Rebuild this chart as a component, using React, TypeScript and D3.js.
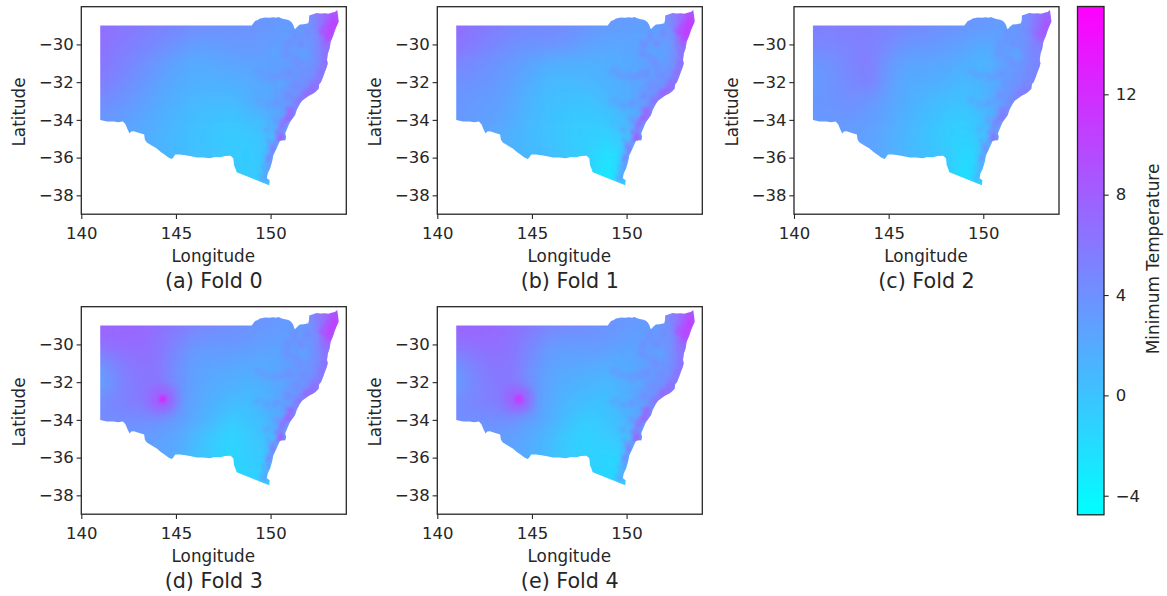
// App.tsx - minimum temperature maps of NSW for five folds
import React, { useEffect, useRef } from 'react';
import * as d3 from 'd3';

const WIDTH = 1167;
const HEIGHT = 596;

// NSW outline, [lon, lat]
const OUTLINE: [number, number][] = [
  [141, -29], [149, -28.99], [149.1, -28.86], [149.18, -28.76], [149.32, -28.7], [149.44, -28.63], [149.58, -28.6],
  [149.7, -28.57], [149.92, -28.59], [150.14, -28.56], [150.28, -28.58], [150.41, -28.54], [150.6, -28.62], [150.76, -28.67],
  [150.9, -28.69], [151.02, -28.75], [151.12, -28.84], [151.2, -28.97], [151.24, -29.1], [151.29, -29.2], [151.42, -29.05],
  [151.55, -28.94], [151.75, -28.93], [151.99, -28.88], [152.03, -28.7], [152.04, -28.46], [152.2, -28.41], [152.43, -28.33],
  [152.65, -28.36], [152.87, -28.35], [153.05, -28.37], [153.23, -28.32], [153.4, -28.28], [153.52, -28.18], [153.56, -28.45],
  [153.6, -28.8], [153.48, -29.05], [153.4, -29.26], [153.3, -29.55], [153.17, -29.87], [153.12, -30.2], [153.02, -30.5],
  [152.98, -30.83], [153.02, -31], [152.97, -31.2], [152.86, -31.48], [152.78, -31.72], [152.66, -32], [152.57, -32.1],
  [152.54, -32.35], [152.4, -32.5], [152.26, -32.6], [152.02, -32.72], [151.82, -32.86], [151.66, -32.98], [151.55, -33.14],
  [151.38, -33.48], [151.29, -33.75], [151.14, -33.95], [151.02, -34.12], [150.9, -34.4], [150.77, -34.72], [150.82, -34.9],
  [150.78, -35.08], [150.62, -35.08], [150.49, -35.12], [150.32, -35.5], [150.14, -35.87], [150.08, -36.2], [149.97, -36.58],
  [149.84, -36.85], [149.8, -37.1], [149.95, -37.2], [149.93, -37.46], [148.21, -36.78], [148.14, -36.58], [148.07, -36.4],
  [148.03, -36.04], [147.88, -35.9], [147.59, -35.92], [147.35, -35.98], [147.05, -35.97], [146.8, -36.04], [146.45, -35.99],
  [146.11, -36], [145.8, -35.93], [145.5, -35.87], [145.22, -35.83], [144.96, -35.84], [144.86, -36], [144.78, -36.08],
  [144.6, -36], [144.43, -35.86], [144.2, -35.7], [143.99, -35.52], [143.72, -35.36], [143.46, -35.2], [143.36, -35.05],
  [143.32, -34.78], [143.02, -34.68], [142.78, -34.6], [142.64, -34.62], [142.55, -34.72], [142.44, -34.5], [142.34, -34.25],
  [142.2, -34.08], [141.95, -34.12], [141.7, -34.09], [141.35, -34.08], [141, -34]
];

const GRID_LONS = [141, 142, 143, 144, 145, 146, 147, 148, 149, 150, 151, 152, 153, 154];
const GRID_LATS = [-28, -29, -30, -31, -32, -33, -34, -35, -36, -37, -38];

// temperature on a one degree grid
const FOLD_0 = [
  [6.5, 6, 6, 5.5, 5, 5, 4.5, 4.5, 4, 3.5, 3.5, 4.5, 9, 10],
  [6.8, 6.3, 5.8, 5.3, 4.8, 4.4, 4.2, 4, 3.8, 3.5, 3, 3.5, 7, 9],
  [6.6, 5.8, 5.2, 4.6, 3.8, 3, 3, 3.4, 3.4, 3, 2.8, 3.2, 6.5, 8],
  [6.2, 5.3, 4.4, 3.4, 2.5, 2, 2.2, 2.5, 2.6, 2.6, 3, 3.5, 5.5, 7],
  [5.6, 4.7, 3.8, 2.8, 2, 1.5, 1.5, 1.6, 2, 2.6, 3.5, 4.2, 6, 7],
  [4.4, 3.8, 3, 2.2, 1.5, 1, 0.8, 0.8, 1.6, 2.2, 3.5, 5, 6.5, 7],
  [3.6, 3, 2.4, 1.7, 1, 0.4, 0, -0.2, 0.5, 1.5, 3, 5.5, 7, 7],
  [3, 2.6, 2, 1.4, 0.7, 0.2, -0.2, -0.6, -0.5, 0.5, 3, 6, 7, 7],
  [3, 2.6, 2, 1.4, 0.9, 0.4, 0, -0.5, -0.7, 0.4, 4, 6, 7, 7],
  [3, 2.6, 2, 1.4, 0.9, 0.4, 0, -0.4, -0.8, 0, 4, 6, 7, 7],
  [3, 2.6, 2, 1.4, 0.9, 0.4, 0, -0.4, -0.8, 0, 4, 6, 7, 7]
];
const FOLD_1 = [
  [6.5, 6, 6, 5.5, 5, 5, 4.5, 4.5, 4, 3.5, 3.5, 4.5, 9, 10],
  [6.8, 6.2, 5.6, 4.9, 4.6, 4.6, 4.4, 3.6, 3.2, 3, 2.6, 3, 7, 9],
  [6.4, 5.6, 4.8, 4.2, 3.8, 4, 3.5, 2.6, 2.4, 2.4, 2.4, 2.4, 6, 8],
  [5, 4.4, 3.8, 3.2, 2.4, 1.6, 1.6, 1.6, 1.7, 2, 2.5, 3, 5, 7],
  [4, 3.8, 3.4, 2.6, 1.6, 0.8, 0.8, 1, 1.4, 2, 3, 3.8, 5.5, 6.5],
  [3.6, 3.3, 3, 2.2, 1, 0.4, 0.2, 0, 0.8, 1.6, 3, 5, 6, 6.5],
  [3.4, 3, 2.6, 1.8, 0.8, 0.2, -0.4, -0.6, -0.2, 1, 3, 6, 7, 7],
  [3, 2.6, 2, 1.3, 0.6, 0.1, -0.6, -0.8, -1.2, 0, 3, 6, 7, 7],
  [3, 2.6, 2, 1.4, 0.9, 0.6, -0.2, -1, -2.6, -1, 3.5, 6, 7, 7],
  [3, 2.6, 2, 1.4, 0.9, 0.6, -0.2, -1, -3.2, -1, 3, 6, 7, 7],
  [3, 2.6, 2, 1.4, 0.9, 0.6, -0.2, -1, -3.2, -1, 3, 6, 7, 7]
];
const FOLD_2 = [
  [5.5, 5.5, 5.5, 5, 5, 5, 4.5, 4.5, 4, 3.5, 3.5, 4, 7, 8],
  [5.5, 5.5, 5.6, 5.6, 5.2, 4.8, 4.4, 4, 3.6, 3.4, 3, 3.5, 6.5, 7.5],
  [4.8, 5, 5.2, 5.4, 4.6, 3.6, 3.6, 3.2, 2.8, 2, 2.6, 3.5, 6, 7.5],
  [3.6, 4, 5, 5.6, 3.4, 2.4, 2.4, 2.2, 1.6, 1, 2.5, 3.6, 5.5, 6.5],
  [3, 3.8, 4.6, 5.4, 3, 2, 1.8, 1.4, 0.8, 1.2, 3, 4, 5.5, 6.5],
  [3.6, 3.8, 4.2, 3.6, 2.6, 1.6, 1, 0.4, 0, 1, 3, 5, 6, 6.5],
  [3.4, 3.4, 3.4, 3, 2.2, 1.2, 0.4, -0.4, -0.8, 0.4, 3, 5.6, 7, 7],
  [3, 3, 3, 2.6, 1.8, 0.9, 0.1, -0.8, -1.2, -0.2, 3, 6, 7, 7],
  [3, 3, 3, 2.6, 1.8, 1, 0.4, -0.2, -2, -0.8, 3.5, 6, 7, 7],
  [3, 3, 3, 2.6, 1.8, 1, 0.4, -0.4, -2.4, -1, 3, 6, 7, 7],
  [3, 3, 3, 2.6, 1.8, 1, 0.4, -0.4, -2.4, -1, 3, 6, 7, 7]
];
const FOLD_3 = [
  [7.5, 7.5, 7, 7, 6, 5, 5, 4.5, 4, 3.5, 3.5, 4.5, 9, 10],
  [7.6, 7.4, 7.4, 6.6, 6, 5.2, 4.6, 4.2, 3.8, 3.4, 3, 3.5, 7, 9],
  [6.6, 7, 7, 6.4, 5, 3.6, 3.4, 3.6, 3.2, 2.8, 2.8, 3.2, 6.5, 8.5],
  [4, 5.4, 6.4, 6.2, 4.2, 2.8, 2.6, 2.4, 2.2, 2, 2.8, 3.6, 5.5, 7],
  [2.6, 4.8, 6, 6.2, 4, 2.6, 2, 1.6, 1.4, 2, 3, 4, 5.5, 7],
  [4.4, 5.2, 5.8, 6.4, 4, 2.4, 1.4, 0.8, 0.4, 1.6, 3, 5, 6, 7],
  [4.4, 4.4, 4.4, 4.2, 3.2, 2, 0.8, -0.6, 0.2, 1.4, 3, 5.5, 7, 7],
  [3.4, 3.2, 3, 2.8, 2.2, 0.9, -0.6, -1.4, -0.4, 0.4, 3, 6, 7, 7],
  [3.4, 3.2, 3, 2.6, 1.8, 0.4, -0.8, -1.6, -0.4, -0.8, 3.5, 6, 7, 7],
  [3.4, 3.2, 3, 2.6, 1.8, 0.4, -0.8, -1.4, -1.2, -1.2, 3, 6, 7, 7],
  [3.4, 3.2, 3, 2.6, 1.8, 0.4, -0.8, -1.4, -1.2, -1.2, 3, 6, 7, 7]
];
const FOLD_4 = [
  [7.5, 7.5, 7, 7, 6, 5, 5, 4.5, 4, 3.5, 3.5, 4.5, 9, 10],
  [7.6, 7.4, 7.2, 6.6, 5.8, 5, 4.6, 4.2, 3.8, 3.4, 3, 3.5, 7, 9],
  [6.4, 6.8, 6.8, 6.2, 4.8, 3.4, 3.2, 3.4, 3.2, 2.6, 2.6, 3.2, 6.5, 8.5],
  [4.2, 5.4, 6.2, 6, 4, 2.6, 2.4, 2.2, 2, 1.8, 2.6, 3.6, 5.5, 7],
  [3, 4.8, 5.8, 6, 3.6, 2.2, 1.6, 1.2, 1, 1.8, 3, 4, 5.5, 7],
  [4.4, 5, 5.6, 6.2, 3.6, 2, 1, 0.4, 0.2, 1.4, 3, 5, 6, 7],
  [4.2, 4.2, 4.2, 4, 2.8, 1.6, 0.2, -0.8, 0, 1.2, 3, 5.5, 7, 7],
  [3.4, 3.2, 3, 2.6, 1.8, 0.6, -0.8, -1.2, -0.6, 0.2, 3, 6, 7, 7],
  [3.4, 3.2, 3, 2.4, 1.6, 0.4, -0.6, -1, -1.4, -1.2, 3.5, 6, 7, 7],
  [3.4, 3.2, 3, 2.4, 1.6, 0.4, -0.6, -1, -1.6, -1.6, 3, 6, 7, 7],
  [3.4, 3.2, 3, 2.4, 1.6, 0.4, -0.6, -1, -1.6, -1.6, 3, 6, 7, 7]
];
const FOLD_GRIDS = [FOLD_0, FOLD_1, FOLD_2, FOLD_3, FOLD_4];
const FOLD_LABELS = ['(a) Fold 0', '(b) Fold 1', '(c) Fold 2', '(d) Fold 3', '(e) Fold 4'];

// warm strip along the coast, [lon, lat, temp]
const COAST_CELLS: [number, number, number][] = [
  [153.3, -28.5, 9.5], [153.4, -28.9, 10.5], [153, -29, 9.5], [153.2, -29.3, 10.5], [152.9, -29.5, 9.5], [153.1, -29.7, 9.5],
  [152.8, -29.2, 8], [152.9, -30, 7], [153, -30.5, 6.5], [152.85, -31, 6.5], [152.7, -31.5, 6.5], [152.45, -32, 6.5], [152.2, -32.4, 7.5],
  [151.9, -32.6, 7.5], [151.5, -33, 6.5], [151.1, -33.5, 7.5], [150.9, -33.9, 8.5], [150.6, -34.3, 7], [150.5, -34.8, 7], [150.5, -35, 8.5],
  [150.15, -35.5, 6.5], [149.95, -36, 5.5], [149.85, -36.5, 4], [149.7, -37, 3]
];
// the ranges and valleys behind the coast, same in every fold
const RANGE_CELLS: [number, number, number][] = [
  [151.9, -29.5, 4.6], [151.6, -30, 4.8], [151.2, -29.6, 4.8], [150.9, -30, 4.6], [150.8, -30.5, 4.4], [151.2, -30.7, 4], [151.5, -31, 4.4],
  [151, -31.5, 4.4], [150.6, -31.7, 3.8], [150.2, -31.7, 3.6], [149.7, -31.6, 3.4], [149.3, -31.4, 3.2], [151.8, -31.6, 4.4], [151.3, -32.2, 4.4],
  [150.9, -32.7, 4.8], [150.3, -33.1, 3.8], [149.8, -33.2, 3.2], [149.3, -33, 2.8], [150.3, -34, 3.2], [149.8, -34.5, 2.4], [150, -35.2, 2.8],
  [150.2, -30.4, 2.2], [150.6, -32.1, 2], [149.9, -32.4, 1.6], [151.8, -30.5, 2.4], [149.4, -34.1, 0.2]
];
const COAST_OFFSET = [0, 0.5, -1.8, 0, 0];

// warm spot on the western plain in folds 3 and 4, [lon, lat, temp]
const SPOT_CORE: [number, number, number][][] = [[], [], [], [[144.3, -32.9, 15]], [[144.3, -32.9, 14.5]]];
const SPOT_HALO: [number, number, number][][] = [[], [], [], [[144.3, -32.9, 8.2]], [[144.3, -32.9, 8.2]]];

const X_TICKS = [140, 145, 150];
const Y_TICKS = [-30, -32, -34, -36, -38];
const COLORBAR_TICKS = [-4, 0, 4, 8, 12];
const TEMP_MIN = -4.76;
const TEMP_MAX = 15.5;

const COLS = [81.3, 437.3, 794];
const ROWS = [6.7, 306.7];
const PANEL_W = 265;
const PANEL_H = 207.5;
const INK = '#262626';

const App = () => {
  const svgRef = useRef<SVGSVGElement>(null);

  useEffect(() => {
    const svg = d3.select(svgRef.current);
    svg.selectAll('*').remove();

    const color = d3.scaleLinear<string>().domain([TEMP_MIN, TEMP_MAX]).range(['#00ffff', '#ff00ff']);
    const defs = svg.append('defs');

    const blurFilter = (id: string, dev: number) => {
      defs.append('filter').attr('id', id)
        .attr('x', '-50%').attr('y', '-50%').attr('width', '200%').attr('height', '200%')
        .append('feGaussianBlur').attr('stdDeviation', dev);
    };
    blurFilter('coarseBlur', 8);
    blurFilter('haloBlur', 6);
    blurFilter('coreBlur', 2);

    // rough edges on the ranges
    const rough = defs.append('filter').attr('id', 'roughBlur')
      .attr('x', '-20%').attr('y', '-20%').attr('width', '140%').attr('height', '140%');
    rough.append('feGaussianBlur').attr('stdDeviation', 2.2).attr('result', 'soft');
    rough.append('feTurbulence').attr('type', 'fractalNoise').attr('baseFrequency', 0.18)
      .attr('numOctaves', 2).attr('seed', 4).attr('result', 'noise');
    rough.append('feDisplacementMap').attr('in', 'soft').attr('in2', 'noise').attr('scale', 8)
      .attr('xChannelSelector', 'R').attr('yChannelSelector', 'G').attr('result', 'shifted');
    rough.append('feGaussianBlur').attr('in', 'shifted').attr('stdDeviation', 0.8);

    FOLD_GRIDS.forEach((grid, i) => {
      const left = COLS[i % 3];
      const top = ROWS[Math.floor(i / 3)];
      const x = d3.scaleLinear().domain([140, 154]).range([0, PANEL_W]);
      const y = d3.scaleLinear().domain([-28, -39]).range([0, PANEL_H]);
      const g = svg.append('g').attr('transform', `translate(${left}, ${top})`);

      const outline = d3.line<[number, number]>().x(d => x(d[0])).y(d => y(d[1]));
      defs.append('clipPath').attr('id', `nsw${i}`)
        .append('path').attr('d', outline(OUTLINE) + 'Z');

      const map = g.append('g').attr('clip-path', `url(#nsw${i})`);
      const base = map.append('g').attr('filter', 'url(#coarseBlur)');
      grid.forEach((row, r) => {
        row.forEach((temp, c) => {
          // outer cells run on past the outline so the blur keeps full colour at the border
          const x0 = x(GRID_LONS[c] - (c === 0 ? 3 : 0.5));
          const x1 = x(GRID_LONS[c] + (c === row.length - 1 ? 3 : 0.5));
          const y0 = y(GRID_LATS[r] + (r === 0 ? 3 : 0.5));
          const y1 = y(GRID_LATS[r] - (r === grid.length - 1 ? 3 : 0.5));
          base.append('rect')
            .attr('x', x0).attr('y', y0)
            .attr('width', x1 - x0 + 0.5).attr('height', y1 - y0 + 0.5)
            .attr('fill', color(temp));
        });
      });

      const cell = (parent: any, d: [number, number, number], half: number, temp: number) => {
        parent.append('rect')
          .attr('x', x(d[0] - half)).attr('y', y(d[1] + half))
          .attr('width', x(half * 2) - x(0)).attr('height', y(-half * 2) - y(0))
          .attr('fill', color(temp));
      };

      const detail = map.append('g').attr('filter', 'url(#roughBlur)');
      RANGE_CELLS.forEach(d => cell(detail, d, 0.17, d[2] + COAST_OFFSET[i] / 3));
      COAST_CELLS.forEach(d => cell(detail, d, 0.2, d[2] + COAST_OFFSET[i]));

      SPOT_HALO[i].forEach(d => cell(map.append('g').attr('filter', 'url(#haloBlur)'), d, 0.6, d[2]));
      SPOT_CORE[i].forEach(d => cell(map.append('g').attr('filter', 'url(#coreBlur)'), d, 0.13, d[2]));

      // axes
      const xAxis = g.append('g').attr('transform', `translate(0, ${PANEL_H})`)
        .call(d3.axisBottom(x).tickValues(X_TICKS).tickSize(4.7).tickPadding(8.5).tickFormat(d3.format('d')));
      const yAxis = g.append('g')
        .call(d3.axisLeft(y).tickValues(Y_TICKS).tickSize(4.7).tickPadding(2.8).tickFormat(d3.format('d')));
      [xAxis, yAxis].forEach(a => {
        a.selectAll('text').attr('font-size', 16.5).attr('fill', INK);
        a.selectAll('line').attr('stroke', INK).attr('stroke-width', 1.1);
        a.attr('font-family', 'DejaVu Sans');
        a.select('.domain').remove();
      });
      g.append('rect')
        .attr('width', PANEL_W).attr('height', PANEL_H)
        .attr('fill', 'none').attr('stroke', INK).attr('stroke-width', 1.3);

      g.append('text')
        .attr('x', PANEL_W / 2 - 0.5).attr('y', PANEL_H + 48)
        .attr('text-anchor', 'middle').attr('font-family', 'DejaVu Sans').attr('font-size', 16.8).attr('fill', INK)
        .text('Longitude');
      g.append('text')
        .attr('transform', `translate(-56, ${PANEL_H / 2 + 1.5}) rotate(-90)`)
        .attr('text-anchor', 'middle').attr('font-family', 'DejaVu Sans').attr('font-size', 16.8).attr('fill', INK)
        .text('Latitude');
      g.append('text')
        .attr('x', PANEL_W / 2).attr('y', PANEL_H + 74)
        .attr('text-anchor', 'middle').attr('font-family', 'DejaVu Sans').attr('font-size', 20.7).attr('fill', INK)
        .text(FOLD_LABELS[i]);
    });

    // colorbar
    const barTop = 6.5;
    const barH = 508.3;
    const barLeft = 1077.5;
    const barW = 26.5;
    const barScale = d3.scaleLinear().domain([TEMP_MAX, TEMP_MIN]).range([0, barH]);
    const gradient = defs.append('linearGradient').attr('id', 'coolBar')
      .attr('x1', 0).attr('y1', 1).attr('x2', 0).attr('y2', 0);
    gradient.append('stop').attr('offset', 0).attr('stop-color', color(TEMP_MIN));
    gradient.append('stop').attr('offset', 1).attr('stop-color', color(TEMP_MAX));

    const bar = svg.append('g').attr('transform', `translate(${barLeft}, ${barTop})`);
    bar.append('rect').attr('width', barW).attr('height', barH)
      .attr('fill', 'url(#coolBar)').attr('stroke', INK).attr('stroke-width', 1.3);
    const barAxis = bar.append('g').attr('transform', `translate(${barW}, 0)`)
      .call(d3.axisRight(barScale).tickValues(COLORBAR_TICKS).tickSize(4.7).tickPadding(7).tickFormat(d3.format('d')));
    barAxis.attr('font-family', 'DejaVu Sans');
    barAxis.selectAll('text').attr('font-size', 16.5).attr('fill', INK);
    barAxis.selectAll('line').attr('stroke', INK).attr('stroke-width', 1.1);
    barAxis.select('.domain').remove();
    svg.append('text')
      .attr('transform', 'translate(1159, 259) rotate(-90)')
      .attr('text-anchor', 'middle').attr('font-family', 'DejaVu Sans').attr('font-size', 16.9).attr('fill', INK)
      .text('Minimum Temperature');
  }, []);

  return (
    <svg
      ref={svgRef}
      width={WIDTH}
      height={HEIGHT}
      style={{ position: 'absolute', left: 0, top: 0, display: 'block', background: '#fff' }}
    />
  );
};

export default App;
